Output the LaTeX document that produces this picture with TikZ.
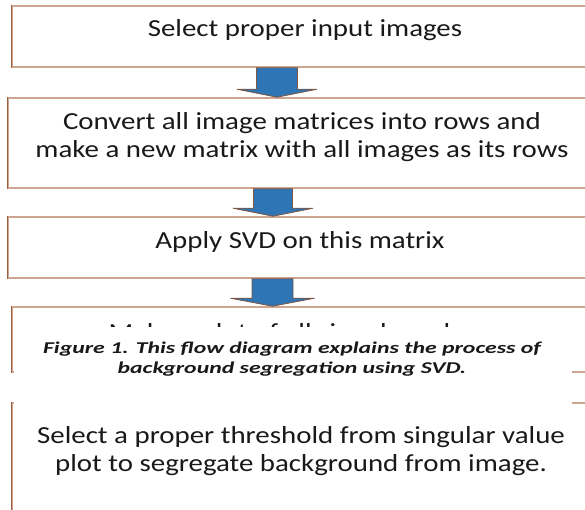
\documentclass[tikz,border=0pt]{standalone}
\usepackage{fontspec}
\setmainfont{Carlito}
\newfontfamily\boxfont[FakeStretch=1.18]{Carlito}
\newfontfamily\capfont[FakeStretch=1.44]{Carlito}
\usetikzlibrary{calc}
\definecolor{edge}{RGB}{205,165,145}
\definecolor{edgedark}{RGB}{160,95,60}
\definecolor{arrowblue}{RGB}{46,117,182}
\definecolor{arrowline}{RGB}{125,85,65}
\tikzset{
  box/.style={draw=edge, line width=1.6pt, fill=white, rectangle, inner sep=0pt},
  boxtext/.style={font=\boxfont\fontsize{24.5}{28.5}\selectfont, align=center, inner sep=0pt, text=black!90},
  captext/.style={font=\capfont\fontsize{16.5}{20.5}\selectfont\bfseries\itshape, align=center, inner sep=0pt, text=black!90},
  blockarrow/.style={fill=arrowblue, draw=arrowline, line width=0.8pt, line join=miter}
}
\newcommand{\blockarr}[5]{% top node, bottom node, center x, shaft half width, head half width
  \path let \p1=(#1.south), \p2=(#2.north) in
    coordinate (s1) at (#3-#4,\y1) coordinate (s2) at (#3+#4,\y1)
    coordinate (h1) at (#3-#4,\y2+8) coordinate (h2) at (#3+#4,\y2+8)
    coordinate (w1) at (#3-#5,\y2+8) coordinate (w2) at (#3+#5,\y2+8)
    coordinate (tp) at (#3,\y2);
  \draw[blockarrow] (s1) -- (h1) -- (w1) -- (tp) -- (w2) -- (h2) -- (s2) -- cycle;
}
\begin{document}
\begin{tikzpicture}[x=1pt,y=-1pt]
\useasboundingbox (0,0) rectangle (585,509);
\clip (0,0) rectangle (585,509);
% boxes
\node[box, minimum width=585pt, minimum height=61pt] (b1) at (304.5,36.5) {};
\node[box, minimum width=589pt, minimum height=90pt] (b2) at (302.5,143) {};
\node[box, minimum width=589pt, minimum height=61pt] (b3) at (302.5,247.5) {};
\node[box, minimum width=585pt, minimum height=65pt] (b4) at (304.5,339.5) {};
\node[box, minimum width=585pt, minimum height=120pt] (b5) at (304.5,463) {};
\draw[edgedark, line width=1.2pt] (b1.north west) -- (b1.south west);
\draw[edgedark, line width=1.2pt] (b2.north west) -- (b2.south west);
\draw[edgedark, line width=1.2pt] (b3.north west) -- (b3.south west);
\draw[edgedark, line width=1.2pt] (b4.north west) -- (b4.south west);
\draw[edgedark, line width=1.2pt] (b5.north west) -- (b5.south west);
% texts
\node[boxtext] (t1) at (305,30) {Select proper input images};
\node[boxtext] (t2) at (302,137) {Convert all image matrices into rows and\\make a new matrix with all images as its rows};
\node[boxtext] (t3) at (300,242) {Apply SVD on this matrix};
\node[boxtext] (t4) at (300,334) {Make a plot of all singular values};
\node[boxtext] (t5) at (301,451) {Select a proper threshold from singular value\\plot to segregate background from image.};
% caption overlay (hides the lower part of box 4 and the top of box 5)
\fill[white] (14,327) rectangle (572,403.5);
\node[captext] (cap) at (292,359) {Figure 1. This flow diagram explains the process of\\background segregation using SVD.};
% arrows
\blockarr{b1}{b2}{277}{20.5}{40}
\blockarr{b2}{b3}{273}{19.5}{40}
\blockarr{b3}{b4}{272.5}{20.5}{42}
\end{tikzpicture}
\end{document}
